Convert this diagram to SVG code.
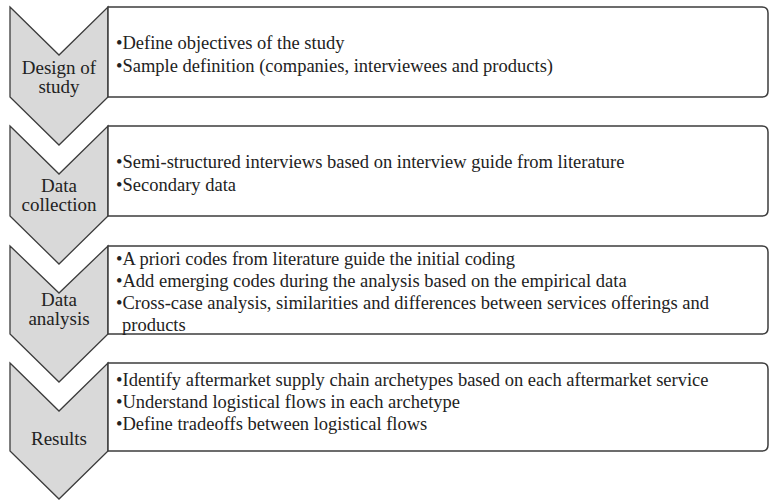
<svg xmlns="http://www.w3.org/2000/svg" width="770" height="503" viewBox="0 0 770 503">
<style>
.chev{fill:#d9d9d9;stroke:#3c3c3c;stroke-width:1.3;stroke-linejoin:miter}
.box{fill:#ffffff;stroke:#3c3c3c;stroke-width:1.5}
.lbl{font-family:"Liberation Serif","Times New Roman",serif;font-size:19px;fill:#222;text-anchor:middle}
.txt{font-family:"Liberation Serif","Times New Roman",serif;font-size:18.5px;fill:#222}
</style>
<rect width="770" height="503" fill="#ffffff"/>
<g id="step1">
<path class="chev" d="M10,7 L59,55 L108,7 L108,97 L59,145 L10,97 Z"/>
<path class="box" d="M108,7 H762 Q768,7 768,13 V91 Q768,97 762,97 H108 Z"/>
<text class="lbl" x="59" y="74">Design of</text>
<text class="lbl" x="59" y="93">study</text>
<text class="txt" x="116" y="49">•Define objectives of the study</text>
<text class="txt" x="116" y="72">•Sample definition (companies, interviewees and products)</text>
</g>
<g id="step2">
<path class="chev" d="M10,126 L59,174 L108,126 L108,216 L59,264 L10,216 Z"/>
<path class="box" d="M108,126 H762 Q768,126 768,132 V210 Q768,216 762,216 H108 Z"/>
<text class="lbl" x="59" y="192">Data</text>
<text class="lbl" x="59" y="211">collection</text>
<text class="txt" x="116" y="168">•Semi-structured interviews based on interview guide from literature</text>
<text class="txt" x="116" y="191">•Secondary data</text>
</g>
<g id="step3">
<path class="chev" d="M10,246 L59,293 L108,246 L108,334 L59,382 L10,334 Z"/>
<path class="box" d="M108,246 H762 Q768,246 768,252 V328 Q768,334 762,334 H108 Z"/>
<text class="lbl" x="59" y="306">Data</text>
<text class="lbl" x="59" y="325">analysis</text>
<text class="txt" x="116" y="265">•A priori codes from literature guide the initial coding</text>
<text class="txt" x="116" y="287">•Add emerging codes during the analysis based on the empirical data</text>
<text class="txt" x="116" y="309">•Cross-case analysis, similarities and differences between services offerings and</text>
<text class="txt" x="122" y="331">products</text>
</g>
<g id="step4">
<path class="chev" d="M10,363 L59,411 L108,363 L108,451 L59,499 L10,451 Z"/>
<path class="box" d="M108,363 H762 Q768,363 768,369 V445 Q768,451 762,451 H108 Z"/>
<text class="lbl" x="59" y="445">Results</text>
<text class="txt" x="116" y="386">•Identify aftermarket supply chain archetypes based on each aftermarket service</text>
<text class="txt" x="116" y="408">•Understand logistical flows in each archetype</text>
<text class="txt" x="116" y="430">•Define tradeoffs between logistical flows</text>
</g>
<g id="connectors"></g>
</svg>
